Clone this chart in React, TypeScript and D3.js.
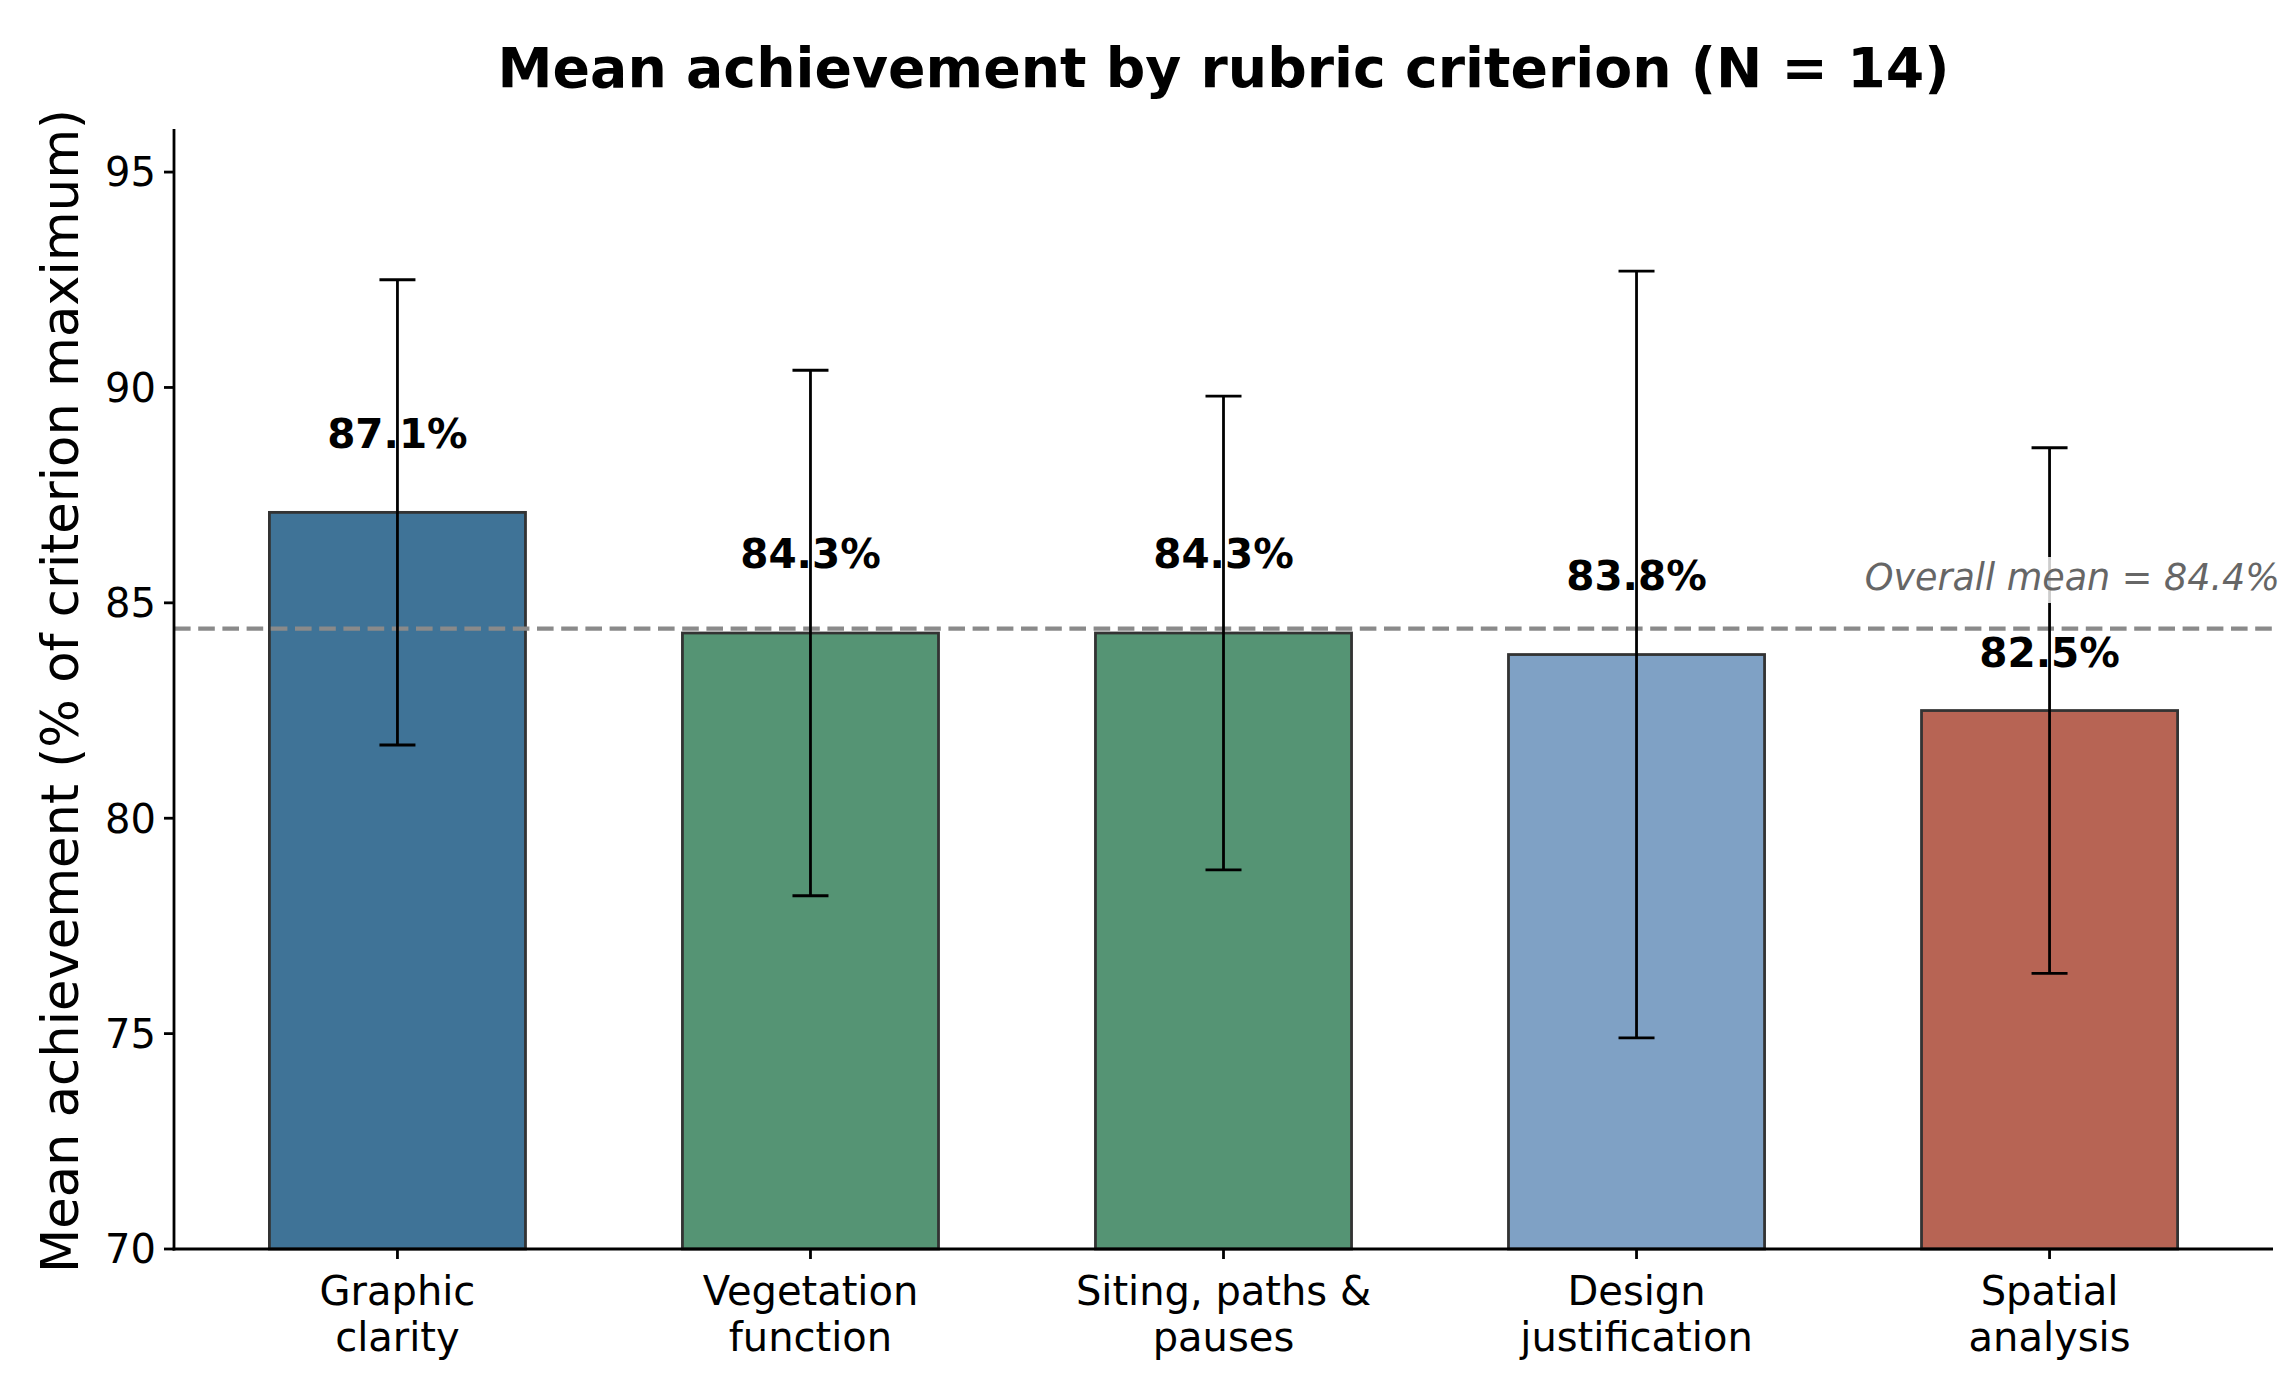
import React, { useEffect } from 'react';
import * as d3 from 'd3';

const criteria = ['Graphic\nclarity', 'Vegetation\nfunction', 'Siting, paths &\npauses', 'Design\njustification', 'Spatial\nanalysis'];
const means = [87.1, 84.3, 84.3, 83.8, 82.5];
const sds = [5.4, 6.1, 5.5, 8.9, 6.1];
const barColors = ['#3f7397', '#559474', '#559474', '#7fa1c5', '#b76454'];
const labelOffsets = [1.5, 1.5, 1.5, 1.5, 1.0];
const overallMean = 84.4;
const yTicks = [70, 75, 80, 85, 90, 95];

const W = 2296;
const H = 1385;
const margin = { top: 129, right: 23, bottom: 136, left: 174 };
const barWidth = 0.62;
const font = '"DejaVu Sans", sans-serif';

export default function App() {
  useEffect(() => {
    document.body.style.margin = '0';
  }, []);

  const n = criteria.length;
  const pad = 0.05 * (n - 1 + barWidth);
  const x = d3.scaleLinear()
    .domain([-barWidth / 2 - pad, n - 1 + barWidth / 2 + pad])
    .range([margin.left, W - margin.right]);
  const y = d3.scaleLinear()
    .domain([70, 96])
    .range([H - margin.bottom, margin.top]);

  const bw = x(barWidth) - x(0);
  const y0 = y(70);
  const cap = 18;

  return (
    <svg width={W} height={H} style={{ display: 'block', background: '#fff' }} fontFamily={font}>
      <text x={(x.range()[0] + x.range()[1]) / 2} y={87} textAnchor="middle" fontSize={55.3} fontWeight="bold">
        Mean achievement by rubric criterion (N = 14)
      </text>

      {/* bars */}
      {means.map((m, i) => (
        <rect key={'b' + i} x={x(i) - bw / 2} y={y(m)} width={bw} height={y0 - y(m)}
          fill={barColors[i]} stroke="#333" strokeWidth={2.8} />
      ))}

      {/* overall mean line */}
      <line x1={x.range()[0]} x2={x.range()[1]} y1={y(overallMean)} y2={y(overallMean)}
        stroke="#8a8a8a" strokeWidth={4.2} strokeDasharray="16.6,7.6" />

      {/* error bars */}
      {means.map((m, i) => {
        const cx = x(i);
        const top = y(m + sds[i]);
        const bot = y(m - sds[i]);
        return (
          <g key={'e' + i} stroke="#000" strokeWidth={2.8}>
            <line x1={cx} x2={cx} y1={top} y2={bot} />
            <line x1={cx - cap} x2={cx + cap} y1={top} y2={top} />
            <line x1={cx - cap} x2={cx + cap} y1={bot} y2={bot} />
          </g>
        );
      })}

      {/* value labels */}
      {means.map((m, i) => (
        <text key={'v' + i} x={x(i)} y={y(m + labelOffsets[i])} textAnchor="middle"
          fontSize={40.5} fontWeight="bold">{m.toFixed(1)}%</text>
      ))}

      {/* overall mean label */}
      <rect x={1858} y={557} width={424} height={46} fill="#fff" fillOpacity={0.8} />
      <text x={2280} y={590} textAnchor="end" fontSize={36.5} fontStyle="italic" fill="#666">
        Overall mean = {overallMean.toFixed(1)}%
      </text>

      {/* axes */}
      <line x1={x.range()[0]} x2={x.range()[0]} y1={y(96)} y2={y0 + 1.4} stroke="#000" strokeWidth={2.8} />
      <line x1={x.range()[0] - 1.4} x2={x.range()[1]} y1={y0} y2={y0} stroke="#000" strokeWidth={2.8} />

      {yTicks.map(t => (
        <g key={'yt' + t}>
          <line x1={x.range()[0] - 10} x2={x.range()[0]} y1={y(t)} y2={y(t)} stroke="#000" strokeWidth={2.8} />
          <text x={x.range()[0] - 18} y={y(t)} dy="0.36em" textAnchor="end" fontSize={40}>{t}</text>
        </g>
      ))}

      {criteria.map((c, i) => (
        <g key={'xt' + i}>
          <line x1={x(i)} x2={x(i)} y1={y0} y2={y0 + 10} stroke="#000" strokeWidth={2.8} />
          {c.split('\n').map((line, j) => (
            <text key={j} x={x(i)} y={y0 + 56 + j * 46} textAnchor="middle" fontSize={40}>{line}</text>
          ))}
        </g>
      ))}

      <text transform={`translate(78,${(y(96) + y0) / 2 + 2}) rotate(-90)`} textAnchor="middle" fontSize={51.2}>
        Mean achievement (% of criterion maximum)
      </text>
    </svg>
  );
}
